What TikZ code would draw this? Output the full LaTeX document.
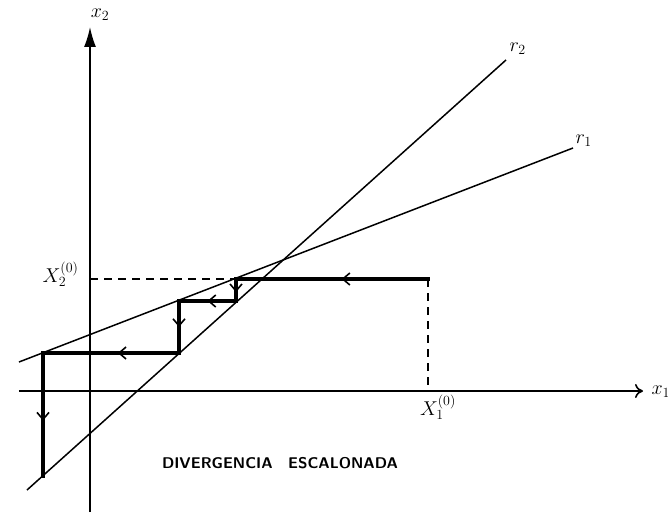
\documentclass[tikz,border=0pt]{standalone}
\usepackage{fix-cm}
\usepackage{tikz}
\usetikzlibrary{arrows.meta, decorations.markings}

\begin{document}
\begin{tikzpicture}[
    x=1pt, y=1pt,
    axis/.style={line width=1.6pt},
    guide/.style={line width=1.5pt},
    stair/.style={line width=3.6pt, line cap=rect},
    dashguide/.style={line width=1.5pt, dash pattern=on 8pt off 6pt},
    flowarrow/.style={postaction={decorate}, decoration={markings,
        mark=at position #1 with {\arrow{Straight Barb[length=7pt,width=12pt,line width=1.6pt]}}}},
    flowarrow/.default=0.5,
    lbl/.style={font=\fontsize{20}{22}\selectfont},
]
\useasboundingbox (-90,-121) rectangle (578,391);

% axes
\coordinate (O) at (0,0);
\coordinate (xstart) at (-71,0);
\coordinate (xend) at (553,0);
\coordinate (ystart) at (0,-121);
\coordinate (yend) at (0,364);
\draw[axis, -{To[length=8pt,width=14pt]}] (xstart) -- (xend);
\draw[axis, -{Latex[length=20pt,width=12pt]}] (ystart) -- (yend);
\node[lbl, anchor=west] (xlab) at (558,-1) {$x_1$};
\node[lbl] (ylab) at (10,376) {$x_2$};

% the two lines
\coordinate (r1a) at (-71,29);
\coordinate (r1b) at (483,243);
\coordinate (r2a) at (-63,-99);
\coordinate (r2b) at (416,331);
\draw[guide] (r1a) -- (r1b);
\draw[guide] (r2a) -- (r2b);
\node[lbl, anchor=west] (r1lab) at (482,250) {$r_1$};
\node[lbl, anchor=west] (r2lab) at (416,342) {$r_2$};

% staircase corners
\coordinate (P0) at (338,112);
\coordinate (A1) at (146,112);
\coordinate (B1) at (146,90);
\coordinate (A2) at (89,90);
\coordinate (B2) at (89,38);
\coordinate (A3) at (-47,38);
\coordinate (B3) at (-47,-85);
\coordinate (X1foot) at (338,0);
\coordinate (X2foot) at (0,112);

% dashed guides
\draw[dashguide] (X2foot) -- (A1);
\draw[dashguide] (P0) -- (X1foot);
\node[lbl, anchor=east] (x20) at (-8,117) {$X_2^{(0)}$};
\node[lbl, anchor=north] (x10) at (348,0) {$X_1^{(0)}$};

% staircase
\draw[stair, flowarrow=0.45] (P0) -- (A1);
\draw[stair, flowarrow=0.6] (A1) -- (B1);
\draw[stair, flowarrow] (B1) -- (A2);
\draw[stair, flowarrow] (A2) -- (B2);
\draw[stair, flowarrow=0.45] (B2) -- (A3);
\draw[stair, flowarrow=0.55] (A3) -- (B3);

\node[font=\sffamily\bfseries\fontsize{15.5}{17}\selectfont] (title) at (190,-72) {DIVERGENCIA\quad ESCALONADA};

\end{tikzpicture}
\end{document}
